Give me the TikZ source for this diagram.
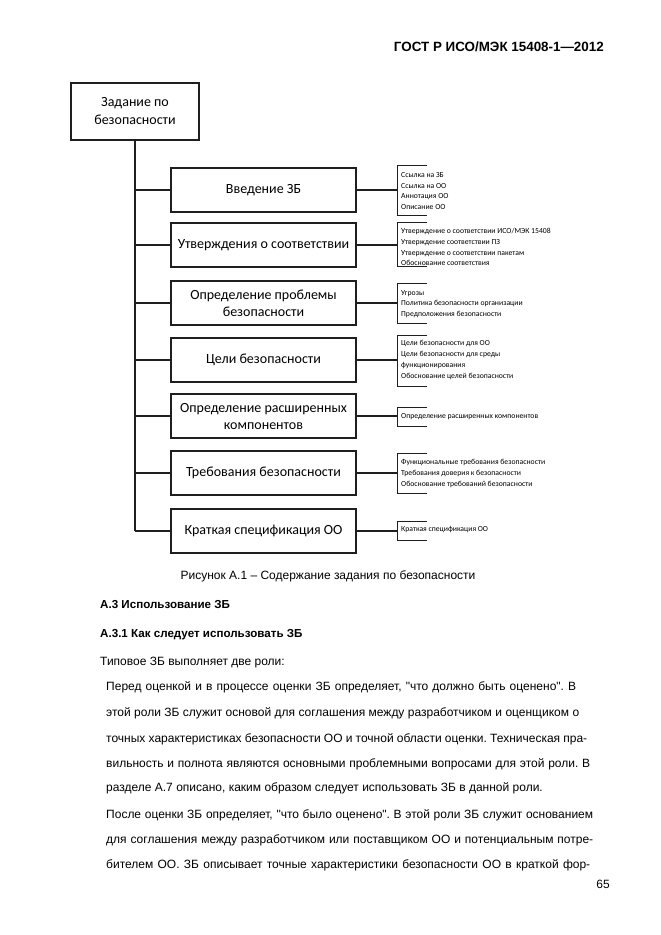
\documentclass[tikz,border=0pt]{standalone}
\usepackage{fontspec}
\setmainfont{Liberation Sans}
\newfontfamily\bodyfont{Liberation Sans}
\newfontfamily\calfont{Carlito}
\newcommand\jline[2]{\makebox[#1pt][s]{#2}}
\frenchspacing
\begin{document}
\begin{tikzpicture}[x=1pt,y=-1pt,
  box/.style={draw=black!88, line width=1.1pt, minimum width=185pt, minimum height=44pt,
    inner sep=0pt, align=center, font=\calfont\fontsize{14}{17}\selectfont},
  link/.style={draw=black!88, line width=1.1pt},
  brk/.style={draw=black!88, line width=1pt},
  note/.style={anchor=west, align=left, inner sep=0pt, font=\calfont\fontsize{7.7}{10.7}\selectfont},
  body/.style={anchor=base west, inner sep=0pt, font=\bodyfont\frenchspacing\fontsize{12}{14}\selectfont},
  head/.style={anchor=base west, inner sep=0pt, font=\bodyfont\bfseries\fontsize{11.6}{14}\selectfont}]
\useasboundingbox[fill=white] (0,0) rectangle (661,935);

% header
\node[anchor=base east, inner sep=0pt, font=\bodyfont\bfseries\fontsize{13.4}{15}\selectfont] (hdr) at (604,51) {ГОСТ Р ИСО/МЭК 15408-1—2012};

% diagram
\node[box, minimum width=128pt, minimum height=57pt, font=\calfont\fontsize{14}{18}\selectfont] (top) at (135,111.5) {Задание по\\безопасности};
\node[box] (b1) at (263.5,190) {Введение ЗБ};
\node[box] (b2) at (263.5,245) {Утверждения о соответствии};
\node[box] (b3) at (263.5,303) {Определение проблемы\\безопасности};
\node[box] (b4) at (263.5,360) {Цели безопасности};
\node[box] (b5) at (263.5,416) {Определение расширенных\\компонентов};
\node[box] (b6) at (263.5,473) {Требования безопасности};
\node[box] (b7) at (263.5,531) {Краткая спецификация ОО};

\draw[link] (top.south) -- (top.south |- b7.west);
\foreach \i in {1,...,7}{
  \draw[link] (top.south |- b\i.west) -- (b\i.west);
}

\foreach \i/\y/\t/\b in {1/190/165/215, 2/245/222/266, 3/303/283/323, 4/360/335/386, 5/416/407/426, 6/473/453/493, 7/531/521/540}{
  \coordinate (j\i) at (397,\y);
  \coordinate (jt\i) at (397,\t);
  \coordinate (jb\i) at (397,\b);
  \draw[link] (b\i.east) -- (j\i);
  \draw[brk] ([xshift=30pt]jt\i) -- (jt\i) -- (jb\i) -- ([xshift=30pt]jb\i);
}

\node[note] (n1) at (401,191) {Ссылка на ЗБ\\Ссылка на ОО\\Аннотация ОО\\Описание ОО};
\node[note] (n2) at (401,247) {Утверждение о соответствии ИСО/МЭК 15408\\Утверждение соответствии ПЗ\\Утверждение о соответствии пакетам\\Обоснование соответствия};
\node[note] (n3) at (401,304) {Угрозы\\Политика безопасности организации\\Предположения безопасности};
\node[note] (n4) at (401,360) {Цели безопасности для ОО\\Цели безопасности для среды\\функционирования\\Обоснование целей безопасности};
\node[note] (n5) at (401,417) {Определение расширенных компонентов};
\node[note] (n6) at (401,473.5) {Функциональные требования безопасности\\Требования доверия к безопасности\\Обоснование требований безопасности};
\node[note] (n7) at (401,530) {Краткая спецификация ОО};

% caption and text
\node[anchor=base, inner sep=0pt, font=\bodyfont\fontsize{12}{14}\selectfont] (cap) at (328,579) {Рисунок А.1 – Содержание задания по безопасности};
\node[head] (h1) at (100,608) {А.3 Использование ЗБ};
\node[head] (h2) at (100,637) {А.3.1 Как следует использовать ЗБ};
\node[body] (p0) at (100,665) {Типовое ЗБ выполняет две роли:};

\node[body] (p1) at (106,690) {\jline{470}{Перед оценкой и в процессе оценки ЗБ определяет, "что должно быть оценено". В}};
\node[body] (p2) at (106,716.5) {\jline{473}{этой роли ЗБ служит основой для соглашения между разработчиком и оценщиком о}};
\node[body] (p3) at (106,742) {\jline{481}{точных характеристиках безопасности ОО и точной области оценки. Техническая пра-}};
\node[body] (p4) at (106,767) {\jline{484}{вильность и полнота являются основными проблемными вопросами для этой роли. В}};
\node[body] (p5) at (106,791) {разделе А.7 описано, каким образом следует использовать ЗБ в данной роли.};

\node[body] (q1) at (106,818) {\jline{487}{После оценки ЗБ определяет, "что было оценено". В этой роли ЗБ служит основанием}};
\node[body] (q2) at (106,843) {\jline{487}{для соглашения между разработчиком или поставщиком ОО и потенциальным потре-}};
\node[body] (q3) at (106,868) {\jline{484}{бителем ОО. ЗБ описывает точные характеристики безопасности ОО в краткой фор-}};

\node[anchor=base, inner sep=0pt, font=\bodyfont\fontsize{12}{14}\selectfont] (pg) at (603,888) {65};
\end{tikzpicture}
\end{document}
